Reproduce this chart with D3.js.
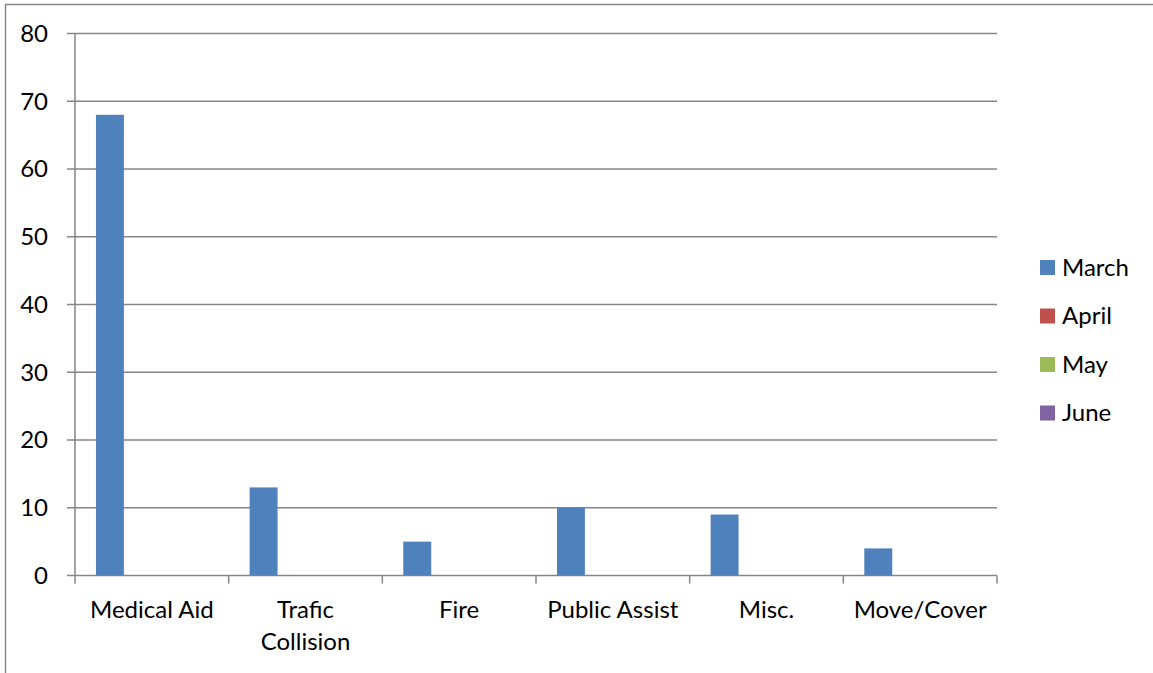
<!DOCTYPE html>
<html>
<head>
<meta charset="utf-8">
<script src="https://cdn.jsdelivr.net/npm/d3@7"></script>
<style>
  body { margin: 0; background: #fff; }
  text { font-family: Lato, "Open Sans", sans-serif; fill: #000; }
</style>
</head>
<body>
<div id="container"></div>
<script>
const categories = ["Medical Aid", "Trafic Collision", "Fire", "Public Assist", "Misc.", "Move/Cover"];
const seriesNames = ["March", "April", "May", "June"];
const march = [68, 13, 5, 10, 9, 4];
const april = [0, 0, 0, 0, 0, 0];
const may = [0, 0, 0, 0, 0, 0];
const june = [0, 0, 0, 0, 0, 0];
const yTicks = [0, 10, 20, 30, 40, 50, 60, 70, 80];
const colors = ["#4f81bd", "#c0504d", "#9bbb59", "#8064a2"];

const WIDTH = 1153, HEIGHT = 673;
const allSeries = [march, april, may, june];

let svg = d3.select("#container").append("svg")
  .attr("width", WIDTH).attr("height", HEIGHT);

// outer chart border (runs off the right and bottom)
svg.append("rect")
  .attr("x", 5.5).attr("y", 4.5)
  .attr("width", WIDTH + 10).attr("height", HEIGHT + 10)
  .attr("fill", "none").attr("stroke", "#868686").attr("stroke-width", 1.5);

const plotLeft = 75, plotRight = 997, plotTop = 33.5, plotBottom = 575.5;

let x = d3.scaleBand().domain(categories).range([plotLeft, plotRight]).padding(0);
// gap width 150%  ->  outer padding of 0.75 bar on each side
let inner = d3.scaleBand().domain(seriesNames).range([0, x.bandwidth()])
  .paddingInner(0).paddingOuter(0.75);
let y = d3.scaleLinear().domain([0, 80]).range([plotBottom, plotTop]);

// gridlines
svg.append("g").selectAll("line").data(yTicks).enter().append("line")
  .attr("x1", plotLeft - 8).attr("x2", plotRight)
  .attr("y1", d => y(d)).attr("y2", d => y(d))
  .attr("stroke", "#868686").attr("stroke-width", 1.5);

// y axis line
svg.append("line")
  .attr("x1", plotLeft).attr("x2", plotLeft).attr("y1", plotTop).attr("y2", plotBottom)
  .attr("stroke", "#868686").attr("stroke-width", 1.5);

// category ticks
const tickXs = categories.map(c => x(c)).concat([plotRight]);
svg.append("g").selectAll("line").data(tickXs).enter().append("line")
  .attr("x1", d => d).attr("x2", d => d)
  .attr("y1", plotBottom).attr("y2", plotBottom + 8)
  .attr("stroke", "#868686").attr("stroke-width", 1.5);

// y labels
svg.append("g").selectAll("text").data(yTicks).enter().append("text")
  .attr("x", 48).attr("y", d => y(d))
  .attr("dy", "0.35em")
  .attr("text-anchor", "end")
  .style("font-size", "24px")
  .text(d => d);

// bars
allSeries.forEach((vals, si) => {
  svg.append("g").selectAll("rect").data(vals).enter().append("rect")
    .attr("x", (d, i) => x(categories[i]) + inner(seriesNames[si]))
    .attr("y", d => y(d))
    .attr("width", inner.bandwidth())
    .attr("height", d => y(0) - y(d))
    .attr("fill", colors[si]);
});

// category labels
const labelLines = {"Trafic Collision": ["Trafic", "Collision"]};
svg.append("g").selectAll("text").data(categories).enter().append("text")
  .attr("x", d => x(d) + x.bandwidth() / 2)
  .attr("y", 618)
  .attr("text-anchor", "middle")
  .style("font-size", "24px")
  .each(function(d) {
    const lines = labelLines[d] || [d];
    d3.select(this).selectAll("tspan").data(lines).enter().append("tspan")
      .attr("x", x(d) + x.bandwidth() / 2)
      .attr("dy", (t, i) => i === 0 ? 0 : 32)
      .text(t => t);
  });

// legend
let legend = svg.append("g");
seriesNames.forEach((s, i) => {
  const cy = 267.5 + i * 48.5;
  legend.append("rect")
    .attr("x", 1040).attr("y", cy - 7.5)
    .attr("width", 15).attr("height", 15)
    .attr("fill", colors[i]);
  legend.append("text")
    .attr("x", 1062).attr("y", cy)
    .attr("dy", "0.35em")
    .style("font-size", "24px")
    .text(s);
});
</script>
</body>
</html>
